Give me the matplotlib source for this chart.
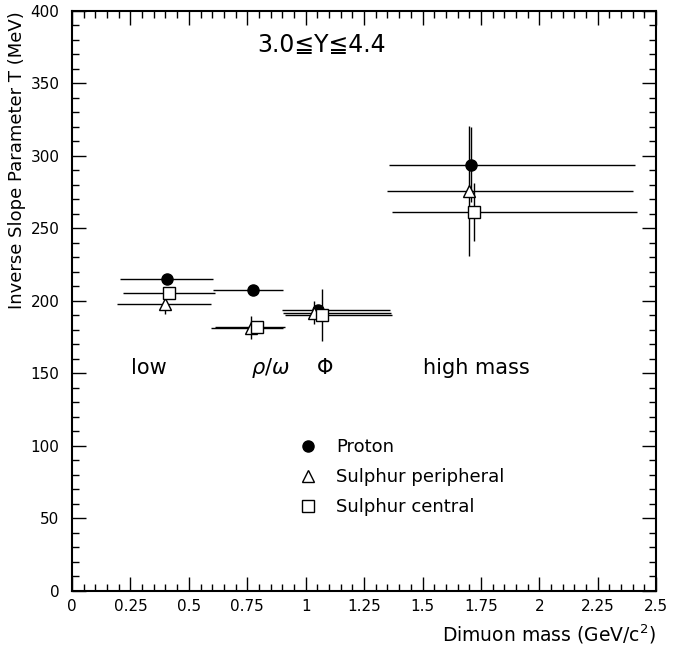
import numpy as np
import matplotlib
matplotlib.use("Agg")
import matplotlib.pyplot as plt
from matplotlib.ticker import MultipleLocator

plt.rcParams["font.family"] = ["DejaVu Sans"]

# =========================
# DATA
# =========================
proton_x = [0.405, 0.775, 1.052, 1.708]
proton_y = [215.5, 207.5, 193.5, 294.0]
proton_xlo = [0.205, 0.605, 0.898, 1.357]
proton_xhi = [0.605, 0.903, 1.361, 2.410]
proton_yerr = [3.0, 3.0, 3.0, 26.0]

periph_x = [0.398, 0.765, 1.037, 1.699]
periph_y = [198.0, 181.5, 192.0, 276.0]
periph_xlo = [0.194, 0.595, 0.905, 1.347]
periph_xhi = [0.594, 0.905, 1.365, 2.400]
periph_yerr = [7.0, 8.0, 8.0, 45.0]

central_x = [0.415, 0.790, 1.069, 1.720]
central_y = [205.5, 182.0, 190.5, 261.5]
central_xlo = [0.217, 0.610, 0.912, 1.369]
central_xhi = [0.612, 0.912, 1.369, 2.420]
central_yerr = [4.0, 4.0, 18.0, 20.0]

region_labels = ["low", r"$\rho/\omega$", r"$\Phi$", "high mass"]
region_x = [0.33, 0.85, 1.083, 1.73]
region_y = 154

rap_text = "3.0\u2266Y\u22664.4"


def draw(ax, x, y, xlo, xhi, yerr, marker, face, ms, label):
    x = np.asarray(x)
    xerr = [x - np.asarray(xlo), np.asarray(xhi) - x]
    ax.errorbar(x, y, xerr=xerr, yerr=yerr, fmt="none", ecolor="black",
                elinewidth=1.0, capsize=0, zorder=2)
    ax.plot(x, y, linestyle="none", marker=marker, markersize=ms,
            markerfacecolor=face, markeredgecolor="black",
            markeredgewidth=1.0, zorder=3)
    return ax.plot([], [], linestyle="none", marker=marker, markersize=ms,
                   markerfacecolor=face, markeredgecolor="black",
                   markeredgewidth=1.0, label=label)[0]


def main():
    fig = plt.figure(figsize=(6.73, 6.47), dpi=100)
    ax = fig.add_axes([0.107, 0.0866, 0.868, 0.8964])

    h1 = draw(ax, proton_x, proton_y, proton_xlo, proton_xhi, proton_yerr,
              "o", "black", 8, "Proton")
    h2 = draw(ax, periph_x, periph_y, periph_xlo, periph_xhi, periph_yerr,
              "^", "white", 9, "Sulphur peripheral")
    h3 = draw(ax, central_x, central_y, central_xlo, central_xhi, central_yerr,
              "s", "white", 8.5, "Sulphur central")

    ax.set_xlim(0, 2.5)
    ax.set_ylim(0, 400)

    ax.xaxis.set_major_locator(MultipleLocator(0.25))
    ax.xaxis.set_minor_locator(MultipleLocator(0.05))
    ax.yaxis.set_major_locator(MultipleLocator(50))
    ax.yaxis.set_minor_locator(MultipleLocator(10))
    ax.set_xticks(np.arange(0, 2.51, 0.25))
    ax.set_xticklabels(["0", "0.25", "0.5", "0.75", "1", "1.25", "1.5",
                        "1.75", "2", "2.25", "2.5"])

    ax.tick_params(which="both", direction="in", top=True, right=True,
                   labelsize=11, width=1.0)
    ax.tick_params(which="major", length=10, pad=6)
    ax.tick_params(which="minor", length=5)
    ax.tick_params(axis="y", which="major", pad=9)
    for s in ax.spines.values():
        s.set_linewidth(1.5)

    ax.set_xlabel("Dimuon mass (GeV/c$^2$)", loc="right", fontsize=13.5,
                  labelpad=6)
    ax.set_ylabel("Inverse Slope Parameter T (MeV)", loc="top", fontsize=13,
                  labelpad=3)

    for lab, xx in zip(region_labels, region_x):
        ax.text(xx, region_y, lab, ha="center", va="center", fontsize=15)

    ax.text(1.066, 376.5, rap_text, ha="center", va="center", fontsize=17)

    ax.legend(handles=[h1, h2, h3], loc="upper left",
              bbox_to_anchor=(0.36, 0.292), frameon=False, fontsize=13,
              handletextpad=1.1, labelspacing=0.68, handlelength=1.0)

    fig.savefig("out.png", dpi=100)


if __name__ == "__main__":
    main()
